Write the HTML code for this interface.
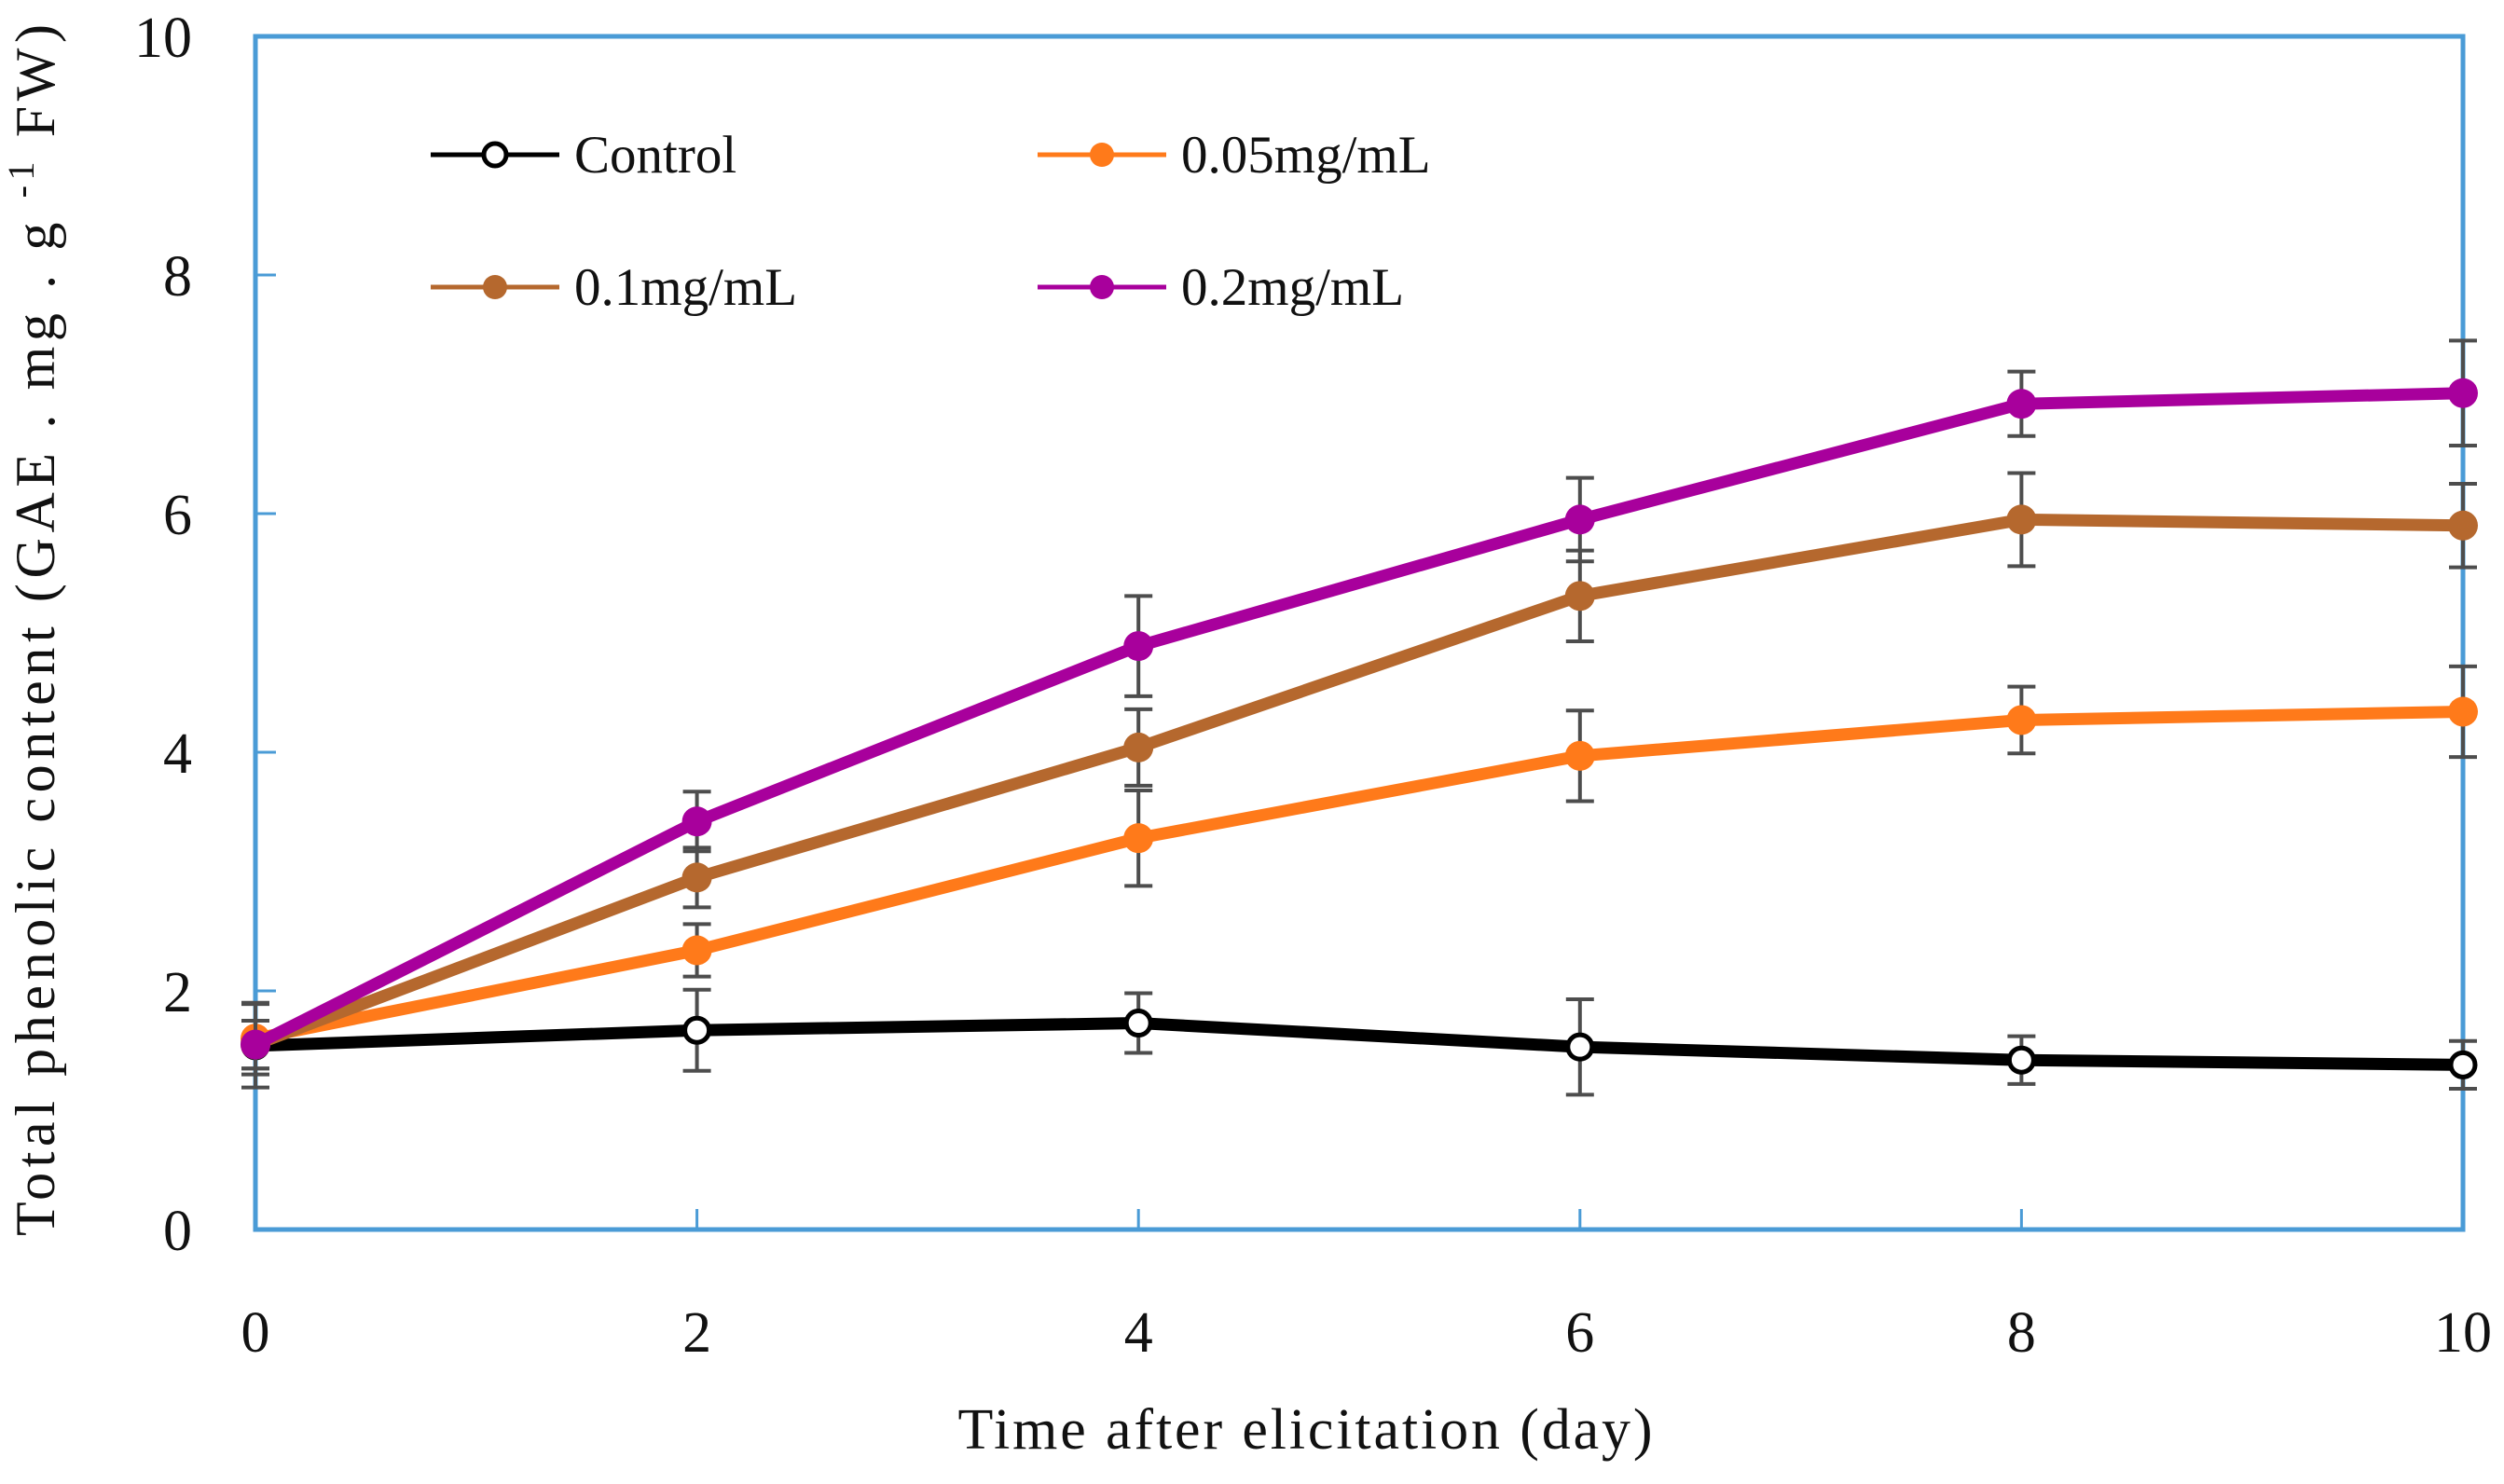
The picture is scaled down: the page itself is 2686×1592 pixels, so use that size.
<!DOCTYPE html>
<html><head><meta charset="utf-8">
<style>
html,body{margin:0;padding:0;background:#fff;}
svg{display:block;}
text{font-family:"Liberation Serif",serif;fill:#111;}
</style></head>
<body>
<svg id="chart" width="2686" height="1592" viewBox="0 0 2686 1592" xmlns="http://www.w3.org/2000/svg">
<rect width="2686" height="1592" fill="#fff"/>
<g id="axes"></g>
<g id="series"></g>
<g id="legend"></g>
<text x="1400" y="1554" font-size="62" text-anchor="middle" textLength="745" lengthAdjust="spacing">Time after elicitation (day)</text>
<text transform="translate(58,676) rotate(-90)" font-size="60" text-anchor="middle" textLength="1300" lengthAdjust="spacing">Total phenolic content (GAE . mg . g <tspan font-size="40" dy="-22">-1</tspan><tspan dy="22"> FW)</tspan></text>
</svg>
<script>
const days = [0, 2, 4, 6, 8, 10];
const xTicks = [0, 2, 4, 6, 8, 10];
const yTicks = [0, 2, 4, 6, 8, 10];
const seriesNames = ["Control", "0.05mg/mL", "0.1mg/mL", "0.2mg/mL"];
const controlVals = [1.54, 1.67, 1.73, 1.53, 1.42, 1.38];
const controlErr = [0.35, 0.34, 0.25, 0.4, 0.2, 0.2];
const c005Vals = [1.6, 2.34, 3.28, 3.97, 4.27, 4.34];
const c005Err = [0.3, 0.22, 0.4, 0.38, 0.28, 0.38];
const c01Vals = [1.55, 2.95, 4.04, 5.31, 5.95, 5.9];
const c01Err = [0.2, 0.25, 0.32, 0.38, 0.39, 0.35];
const c02Vals = [1.55, 3.42, 4.89, 5.95, 6.92, 7.01];
const c02Err = [0.2, 0.25, 0.42, 0.35, 0.27, 0.44];

const NS = "http://www.w3.org/2000/svg";
const X0 = 274, X1 = 2642, Y0 = 1319, Y1 = 39;
function xs(v){ return X0 + (v - 0) / 10 * (X1 - X0); }
function ys(v){ return Y0 - (v - 0) / 10 * (Y0 - Y1); }
function mk(tag, attrs, parent){
  const e = document.createElementNS(NS, tag);
  for (const k in attrs) e.setAttribute(k, attrs[k]);
  parent.appendChild(e);
  return e;
}
const axes = document.getElementById('axes');
const frame = mk('rect', {x:X0, y:Y1, width:X1-X0, height:Y0-Y1, fill:'none', stroke:'#4a9bd6', 'stroke-width':5}, axes);


xTicks.forEach(t => {
  const l = mk('line', {x1:xs(t), x2:xs(t), y1:Y0, y2:Y0-22, stroke:'#4a9bd6', 'stroke-width':3}, axes);
  
  
  const tx = mk('text', {x:xs(t), y:1450, 'font-size':62, 'text-anchor':'middle'}, axes);
  tx.textContent = t;
  
  
});
yTicks.forEach(t => {
  const l = mk('line', {x1:X0, x2:X0+22, y1:ys(t), y2:ys(t), stroke:'#4a9bd6', 'stroke-width':3}, axes);
  
  
  const tx = mk('text', {x:206, y:ys(t)+22, 'font-size':62, 'text-anchor':'end'}, axes);
  tx.textContent = t;
  
  
});

const seriesDefs = [
  {vals:controlVals, err:controlErr, color:'#000000', open:true},
  {vals:c005Vals, err:c005Err, color:'#ff7a1a', open:false},
  {vals:c01Vals, err:c01Err, color:'#b5682e', open:false},
  {vals:c02Vals, err:c02Err, color:'#a8009c', open:false}
];
const sg = document.getElementById('series');
seriesDefs.forEach((s, si) => {
  const g = mk('g', {}, sg);
  
  
  s.vals.forEach((v, i) => {
    const x = xs(days[i]);
    const eb = mk('path', {d:`M${x},${ys(v+s.err[i])}V${ys(v-s.err[i])}M${x-15},${ys(v+s.err[i])}h30M${x-15},${ys(v-s.err[i])}h30`, stroke:'#4d4d4d', 'stroke-width':4, fill:'none'}, g);
    
    
  });
  const pts = s.vals.map((v, i) => xs(days[i]) + ',' + ys(v)).join(' ');
  const pl = mk('polyline', {points:pts, fill:'none', stroke:s.color, 'stroke-width':13, 'stroke-linejoin':'round'}, g);
  
  
  s.vals.forEach((v, i) => {
    const c = mk('circle', {cx:xs(days[i]), cy:ys(v), r:s.open?13:16, fill:s.open?'#fff':s.color, stroke:s.color, 'stroke-width':s.open?5:0}, g);
    
    
  });
});

const legendPos = [[462,166],[1113,166],[462,308],[1113,308]];
const lg = document.getElementById('legend');
seriesDefs.forEach((s, si) => {
  const [lx, ly] = legendPos[si];
  const g = mk('g', {}, lg);
  
  
  mk('line', {x1:lx, x2:lx+138, y1:ly, y2:ly, stroke:s.color, 'stroke-width':5}, g);
  mk('circle', {cx:lx+69, cy:ly, r:s.open?12:13, fill:s.open?'#fff':s.color, stroke:s.color, 'stroke-width':s.open?5:0}, g);
  const t = mk('text', {x:lx+154, y:ly+19, 'font-size':57}, g);
  t.textContent = seriesNames[si];
});
</script>
</body></html>
